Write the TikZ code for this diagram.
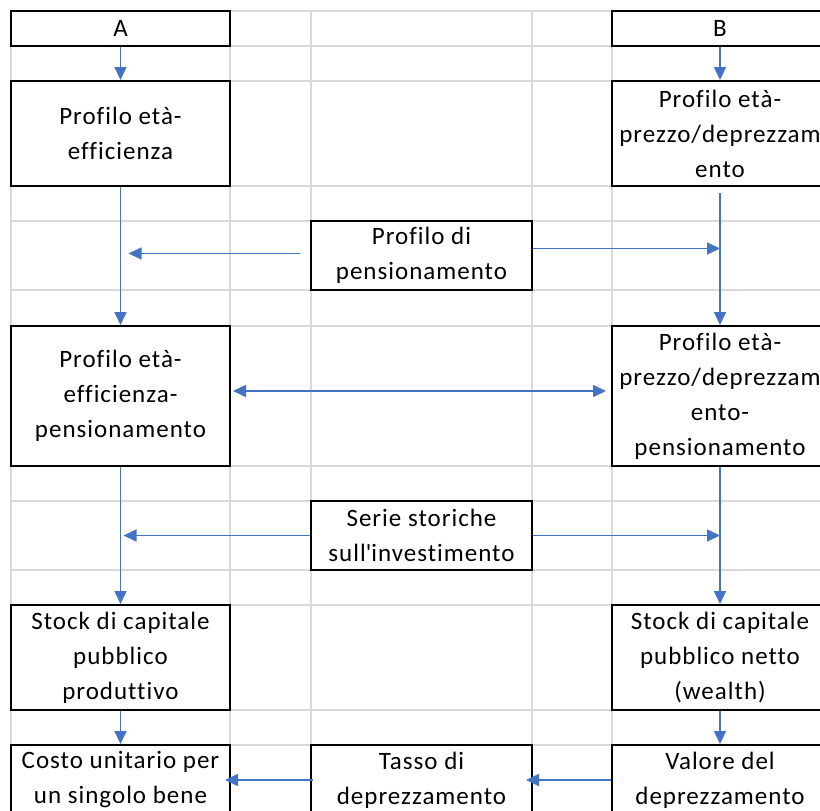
\documentclass[tikz,border=0pt]{standalone}
\usepackage{fontspec}
\setmainfont{Carlito}[LetterSpace=4,Ligatures={NoCommon}]
\usetikzlibrary{arrows.meta}
\definecolor{xlgrid}{RGB}{217,217,217}
\definecolor{xlblue}{RGB}{68,114,196}
\tikzset{
  cell/.style={draw=black,line width=2pt,fill=white,inner sep=0pt,align=center,
    minimum width=219pt,font=\fontsize{25}{35}\selectfont},
  flow/.style={draw=xlblue,line width=1.6pt,-{Triangle[length=13pt,width=12pt]}},
  twoway/.style={draw=xlblue,line width=1.6pt,{Triangle[length=13pt,width=12pt]}-{Triangle[length=13pt,width=12pt]}}
}
\begin{document}
\begin{tikzpicture}[x=1pt,y=-1pt]
\useasboundingbox (0,0) rectangle (820,811);
\clip (0,0) rectangle (820,811);
\foreach \gx in {11,230,311,532,612}
  \draw[xlgrid,line width=1.3pt] (\gx,11) -- (\gx,811);
\foreach \gy in {11,46,81,186,221,290,326,466,501,570,605,710,745}
  \draw[xlgrid,line width=1.3pt] (11,\gy) -- (820,\gy);
\node[cell,minimum height=35pt] (a) at (120.5,28.5) {A};
\node[cell,minimum height=35pt,minimum width=216pt] (b) at (720,28.5) {B};
\node[cell,minimum height=105pt] (a1) at (120.5,133.5) {Profilo età-\\efficienza};
\node[cell,minimum height=105pt,minimum width=216pt] (b1) at (720,133.5) {Profilo età-\\prezzo/deprezzam\\ento};
\node[cell,minimum height=69pt,minimum width=221pt] (pens) at (421.5,255.5) {Profilo di\\pensionamento};
\node[cell,minimum height=140pt] (a2) at (120.5,396) {Profilo età-\\efficienza-\\pensionamento};
\node[cell,minimum height=140pt,minimum width=216pt] (b2) at (720,396) {Profilo età-\\prezzo/deprezzam\\ento-\\pensionamento};
\node[cell,minimum height=69pt,minimum width=221pt] (serie) at (421.5,535.5) {Serie storiche\\sull\textquotesingle investimento};
\node[cell,minimum height=105pt] (a3) at (120.5,657.5) {Stock di capitale\\pubblico\\produttivo};
\node[cell,minimum height=105pt,minimum width=216pt] (b3) at (720,657.5) {Stock di capitale\\pubblico netto\\(wealth)};
\node[cell,minimum height=70pt] (a4) at (120.5,780) {Costo unitario per\\un singolo bene};
\node[cell,minimum height=70pt,minimum width=221pt] (tasso) at (421.5,780) {Tasso di\\deprezzamento};
\node[cell,minimum height=70pt,minimum width=216pt] (val) at (720,780) {Valore del\\deprezzamento};
\draw[flow] (a) -- (a1);
\draw[flow] (b) -- (b1);
\draw[flow] (a1) -- (a2);
\draw[flow] ([yshift=-6pt]b1.south) -- (b2.north);
\coordinate (pl) at ([xshift=-10pt,yshift=2pt]pens.west);
\draw[flow] (pl) -- ([xshift=8pt]pl -| a1.south);
\coordinate (pr) at ([yshift=7pt]pens.east);
\draw[flow] (pr) -- (pr -| b1.south);
\coordinate (ml) at ([xshift=2pt,yshift=5pt]a2.east);
\draw[twoway] (ml) -- ([xshift=-5pt]ml -| b2.west);
\draw[flow] (a2) -- (a3);
\draw[flow] (b2) -- (b3);
\draw[flow] (serie.west) -- ([xshift=3pt]serie.west -| a2.south);
\draw[flow] (serie.east) -- (serie.east -| b2.south);
\draw[flow] (a3) -- (a4);
\draw[flow] (b3) -- (val);
\draw[flow] (val.west) -- ([xshift=-7pt]tasso.east);
\draw[flow] ([xshift=3pt]tasso.west) -- ([xshift=-6pt]a4.east);
\end{tikzpicture}
\end{document}
